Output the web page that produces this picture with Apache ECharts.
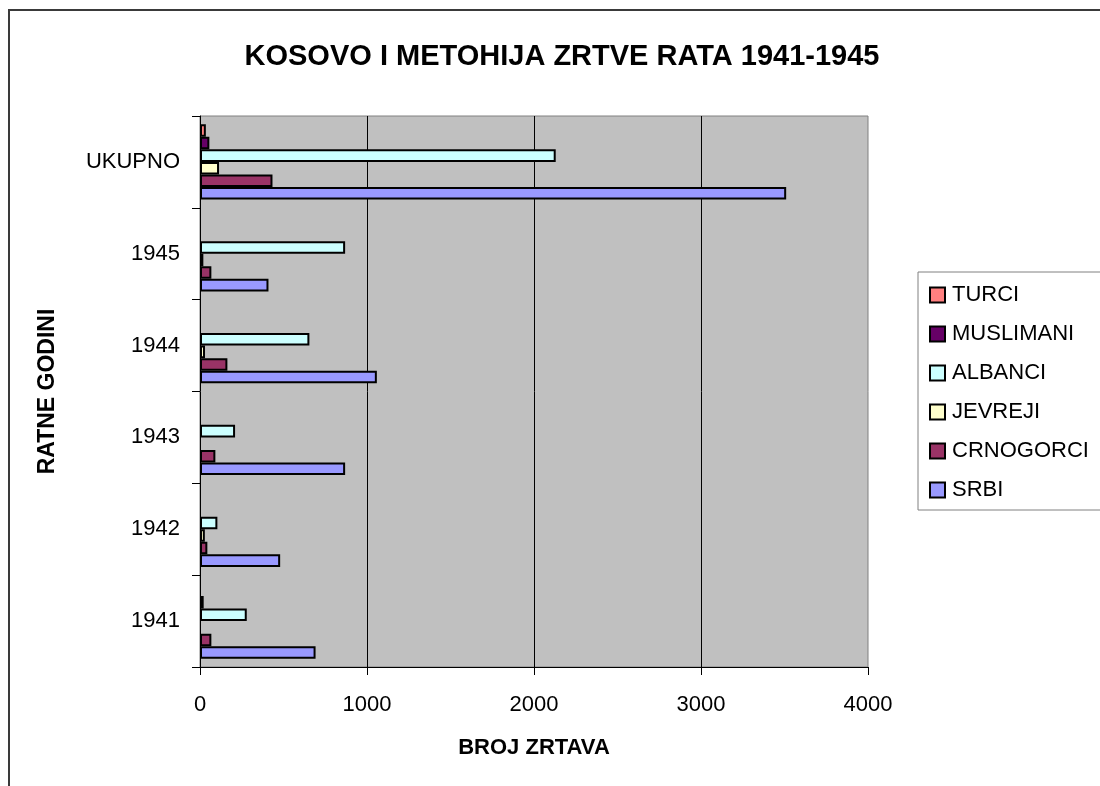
<!DOCTYPE html>
<html>
<head>
<meta charset="utf-8">
<title>Kosovo i Metohija zrtve rata 1941-1945</title>
<script src="https://cdn.jsdelivr.net/npm/echarts@6/dist/echarts.min.js"></script>
<style>
  html, body { margin: 0; padding: 0; background: #fff; }
  #chart { width: 1100px; height: 786px; }
</style>
</head>
<body>
<div id="chart"></div>
<script>
// kategorije (odozdo nagore) i vrednosti po nacionalnosti
const godine = ['1941', '1942', '1943', '1944', '1945', 'UKUPNO']
const srbi = [692, 480, 869, 1059, 410, 3510]
const crnogorci = [68, 44, 92, 164, 68, 434]
const jevreji = [0, 29, 0, 30, 20, 114]
const albanci = [280, 104, 210, 655, 869, 2130]
const muslimani = [22, 0, 0, 0, 0, 56]
const turci = [0, 0, 0, 0, 0, 35]

const xMin = 0
const xMax = 4000
const xStep = 1000

const font = "'Liberation Sans', Arial, sans-serif"

const myChart = echarts.init(document.getElementById('chart'))

// nula se ne crta
const bez0 = arr => arr.map(v => (v === 0 ? '-' : v))

function serija(ime, podaci, boja) {
    return {
        name: ime,
        type: 'bar',
        data: bez0(podaci),
        barGap: '0%',
        barCategoryGap: '18%',
        itemStyle: { color: boja, borderColor: '#000', borderWidth: 2 },
        emphasis: { disabled: true }
    }
}

const option = {
    animation: false,
    backgroundColor: '#fff',
    textStyle: { fontFamily: font },
    title: {
        text: 'KOSOVO I METOHIJA ZRTVE RATA 1941-1945',
        left: 557,
        top: 37,
        textAlign: 'center',
        textStyle: { fontFamily: font, fontSize: 29, fontWeight: 'bold', color: '#000' }
    },
    legend: {
        orient: 'vertical',
        left: 918,
        top: 272,
        padding: [12, 60, 9, 11],
        itemGap: 17,
        itemWidth: 15,
        itemHeight: 15,
        icon: 'rect',
        backgroundColor: '#fff',
        borderColor: '#808080',
        borderWidth: 1,
        textStyle: { fontFamily: font, fontSize: 22, color: '#000', padding: [0, 0, 0, 2] },
        data: ['TURCI', 'MUSLIMANI', 'ALBANCI', 'JEVREJI', 'CRNOGORCI', 'SRBI']
    },
    grid: {
        left: 200,
        right: 232,
        top: 116,
        bottom: 119,
        show: true,
        backgroundColor: '#C0C0C0',
        borderColor: '#808080',
        borderWidth: 1
    },
    xAxis: {
        type: 'value',
        min: xMin,
        max: xMax,
        interval: xStep,
        name: 'BROJ ZRTAVA',
        nameLocation: 'middle',
        nameGap: 70,
        nameTextStyle: { fontFamily: font, fontSize: 22, fontWeight: 'bold', color: '#000' },
        axisLine: { show: true, lineStyle: { color: '#000', width: 1 } },
        axisTick: { show: true, length: 8, lineStyle: { color: '#000' } },
        axisLabel: {
            margin: 27, fontSize: 22, color: '#000', fontFamily: font,
            formatter: v => String(v)
        },
        splitLine: { show: true, showMinLine: false, showMaxLine: false, lineStyle: { color: '#000', width: 1 } }
    },
    yAxis: {
        type: 'category',
        data: godine,
        name: 'RATNE GODINI',
        nameLocation: 'middle',
        nameGap: 141,
        nameRotate: 90,
        nameTextStyle: { fontFamily: font, fontSize: 23, fontWeight: 'bold', color: '#000' },
        axisLine: { show: true, lineStyle: { color: '#000', width: 1 } },
        axisTick: { show: true, length: 8, lineStyle: { color: '#000' } },
        axisLabel: { margin: 20, fontSize: 22, color: '#000', fontFamily: font }
    },
    series: [
        serija('TURCI', turci, '#FF8080'),
        serija('MUSLIMANI', muslimani, '#660066'),
        serija('ALBANCI', albanci, '#CCFFFF'),
        serija('JEVREJI', jevreji, '#FFFFCC'),
        serija('CRNOGORCI', crnogorci, '#993366'),
        serija('SRBI', srbi, '#9999FF')
    ],
    graphic: [{
        type: 'rect',
        shape: { x: 9, y: 10, width: 1200, height: 900 },
        style: { fill: 'none', stroke: '#3a3a3a', lineWidth: 2 },
        silent: true,
        z: 100
    }]
}

myChart.setOption(option)
</script>
</body>
</html>
